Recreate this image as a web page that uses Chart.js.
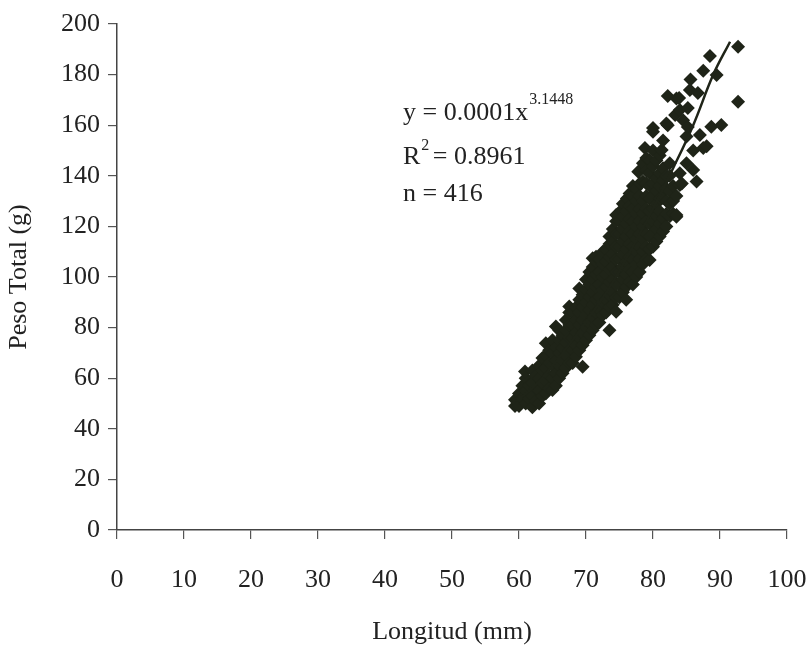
<!DOCTYPE html>
<html>
<head>
<meta charset="utf-8">
<script src="https://cdn.jsdelivr.net/npm/chart.js@4.4.1/dist/chart.umd.min.js"></script>
<style>
  html, body { margin: 0; padding: 0; background: #fff; }
  #wrap { width: 812px; height: 650px; }
</style>
</head>
<body>
<div id="wrap"><canvas id="grafico" width="812" height="650"></canvas></div>
<script>
// ejes
var xTicks = [0, 10, 20, 30, 40, 50, 60, 70, 80, 90, 100];
var yTicks = [0, 20, 40, 60, 80, 100, 120, 140, 160, 180, 200];

// ajuste potencial
var curvaX = [59.5, 62, 65, 68, 71, 74, 77, 80, 83, 86, 89, 91.5];
var curvaY = [51, 56, 65, 75, 86, 98, 112, 127, 143, 160, 180, 193];

var ecuacion = ["y = 0.0001x", "3.1448", "R", "2", " = 0.8961", "n = 416"];

// longitud (mm), peso total (g)
var muestras = [
  [59.4, 49], [59.4, 51.5], [59.7, 50.7],
  [60, 49], [60, 54], [60.5, 52], [60.5, 57],
  [61, 50], [61, 55], [61, 60], [60.9, 62.6], [61.5, 52], [61.5, 57],
  [62, 48.5], [62, 53], [62, 58], [62, 63], [62.5, 51], [62.5, 56], [62.5, 61],
  [63, 50], [63, 55], [63, 60], [63, 65], [63.5, 53], [63.5, 58], [63.5, 63], [63.5, 68],
  [64, 54], [64, 59], [64, 64], [64, 69], [64, 73.8], [64.5, 56], [64.5, 61], [64.5, 66], [64.5, 71],
  [65, 55.3], [65, 60], [65, 65], [65, 70], [65, 75], [65.5, 57], [65.5, 62], [65.5, 67], [65.5, 72], [65.5, 80.4],
  [66, 60], [66, 65], [66, 70], [66, 75], [66, 79], [66.5, 62], [66.5, 67], [66.5, 72], [66.5, 77],
  [67, 64], [67, 69], [67, 74], [67, 79], [67, 83], [67.5, 66], [67.5, 71], [67.5, 76], [67.5, 81], [67.5, 86], [67.5, 88.3],
  [68, 66], [68, 71], [68, 76], [68, 81], [68, 86], [68.5, 68.5], [68.5, 73], [68.5, 78], [68.5, 83], [68.5, 88],
  [69, 71], [69, 76], [69, 81], [69, 86], [69, 91], [69, 95.5], [69.5, 64.5], [69.5, 73], [69.5, 78], [69.5, 83], [69.5, 88], [69.5, 93],
  [70, 75], [70, 80], [70, 85], [70, 90], [70, 95], [70, 99], [70.5, 77], [70.5, 82], [70.5, 87], [70.5, 92], [70.5, 97], [70.5, 102],
  [71, 79], [71, 84], [71, 89], [71, 94], [71, 99], [71, 104], [71, 107.4], [71.5, 81], [71.5, 86], [71.5, 91], [71.5, 96], [71.5, 101], [71.5, 106], [71.5, 108],
  [72, 82], [72, 87], [72, 92], [72, 97], [72, 102], [72, 107], [72.5, 85], [72.5, 90], [72.5, 95], [72.5, 100], [72.5, 105], [72.5, 110],
  [73, 86], [73, 91], [73, 96], [73, 101], [73, 106], [73, 111], [73.5, 79], [73.5, 88], [73.5, 93], [73.5, 98], [73.5, 103], [73.5, 108], [73.5, 113], [73.5, 116],
  [74, 89], [74, 94], [74, 99], [74, 104], [74, 109], [74, 114], [74, 119],
  [74.5, 86.3], [74.5, 92], [74.5, 97], [74.5, 102], [74.5, 107], [74.5, 112], [74.5, 117], [74.5, 122], [74.5, 124.5],
  [75, 92], [75, 97], [75, 102], [75, 107], [75, 112], [75, 117], [75, 122], [75.3, 126.5],
  [75.5, 94], [75.5, 99], [75.5, 104], [75.5, 109], [75.5, 114], [75.5, 119], [75.5, 124], [75.5, 129],
  [76, 91], [76, 96], [76, 101], [76, 106], [76, 111], [76, 116], [76, 121], [76, 126], [76.1, 131],
  [76.5, 98], [76.5, 103], [76.5, 108], [76.5, 113], [76.5, 118], [76.5, 123], [76.5, 128], [76.5, 133],
  [77, 97], [77, 102], [77, 107], [77, 112], [77, 117], [77, 122], [77, 127], [77, 132], [77, 136],
  [77.5, 100], [77.5, 105], [77.5, 110], [77.5, 115], [77.5, 120], [77.5, 125], [77.5, 130], [77.5, 135], [77.8, 141.6],
  [78, 102], [78, 107], [78, 112], [78, 117], [78, 122], [78, 127], [78, 132], [78, 137], [78, 142],
  [78.5, 105], [78.5, 110], [78.5, 115], [78.5, 120], [78.5, 125], [78.5, 130], [78.5, 137.7], [78.5, 145], [78.8, 151],
  [79, 107], [79, 112], [79, 117], [79, 122], [79, 127], [79, 132], [79, 137], [79, 142], [79, 147],
  [79.5, 106.7], [79.5, 111], [79.5, 116], [79.5, 121], [79.5, 126], [79.5, 131], [79.5, 136], [79.5, 141], [79.5, 146],
  [80, 112], [80, 117], [80, 122], [80, 127], [80, 132], [80, 137], [80, 143.8], [80, 150], [80, 157.4], [80, 158.9],
  [80.5, 114], [80.5, 119], [80.5, 124], [80.5, 129], [80.5, 134], [80.5, 139], [80.5, 146],
  [81, 116], [81, 121], [81, 126], [81, 131], [81, 136], [81, 141], [81, 148], [81.3, 150.2],
  [81.5, 118], [81.5, 123], [81.5, 131.2], [81.5, 138], [81.5, 143], [81.5, 154],
  [82, 120], [82, 125], [82, 130], [82, 135], [82, 140], [82.2, 160], [82, 160.7], [82.2, 171.5],
  [82.5, 124], [82.5, 129], [82.5, 134], [82.5, 140], [82.5, 145],
  [83, 125], [83, 130], [83, 136], [83.5, 123.8], [83.5, 124.5], [83.5, 132], [83.5, 170.6], [83.3, 164],
  [83.9, 170.8], [84, 136.4], [84, 141], [84, 166], [84.3, 137], [84.5, 162],
  [85, 145], [85, 155.5], [85.2, 159.3], [85.2, 166.8], [85.5, 173.9], [85.6, 178.1],
  [86, 142.3], [86, 150], [86.5, 137.7], [86.7, 172.7], [87, 156.1],
  [87.5, 151], [87.5, 181.5], [88, 151.7], [88.5, 187.4], [88.7, 159.4],
  [89.5, 179.8], [90.2, 160.1], [92.7, 169.3], [92.7, 191]
];

var tinta = '#1f2418';
var fuente = 'Liberation Serif, Times New Roman, serif';

var curva = [];
for (let i = 0; i < curvaX.length; i++) {
  curva.push({ x: curvaX[i], y: curvaY[i] });
}
var puntos = muestras.map(function (p) { return { x: p[0], y: p[1] }; });

// texto de la ecuacion
var textoEcuacion = {
  id: 'textoEcuacion',
  afterDraw: function (chart) {
    const ctx = chart.ctx;
    ctx.save();
    ctx.fillStyle = '#222';
    ctx.textBaseline = 'alphabetic';
    ctx.textAlign = 'left';
    ctx.font = '26px ' + fuente;
    ctx.fillText(ecuacion[0], 403, 120);
    let w = ctx.measureText(ecuacion[0]).width;
    ctx.font = '16px ' + fuente;
    ctx.fillText(ecuacion[1], 403 + w + 1, 104);

    ctx.font = '26px ' + fuente;
    ctx.fillText(ecuacion[2], 403, 164);
    let wr = ctx.measureText(ecuacion[2]).width;
    ctx.font = '16px ' + fuente;
    ctx.fillText(ecuacion[3], 403 + wr + 1, 150);
    ctx.font = '26px ' + fuente;
    ctx.fillText(ecuacion[4], 403 + wr + 6, 164);

    ctx.fillText(ecuacion[5], 403, 201);
    ctx.restore();
  }
};

new Chart(document.getElementById('grafico'), {
  type: 'scatter',
  data: {
    datasets: [
      {
        type: 'scatter',
        data: puntos,
        pointStyle: 'rectRot',
        pointRadius: 7,
        pointBackgroundColor: tinta,
        pointBorderWidth: 0,
        order: 2
      },
      {
        type: 'line',
        data: curva,
        borderColor: tinta,
        borderWidth: 2.5,
        pointRadius: 0,
        tension: 0.4,
        fill: false,
        order: 1
      }
    ]
  },
  options: {
    responsive: false,
    animation: false,
    layout: { padding: { left: 0, top: 24, right: 25, bottom: 0 } },
    plugins: {
      legend: { display: false },
      tooltip: { enabled: false }
    },
    scales: {
      x: {
        type: 'linear',
        min: 0,
        max: 100,
        afterBuildTicks: function (axis) {
          axis.ticks = xTicks.map(function (v) { return { value: v }; });
        },
        afterFit: function (axis) {
          axis.height = 120;
          axis.paddingLeft = 0;
          axis.paddingRight = 0;
        },
        ticks: {
          color: '#222',
          padding: 26,
          maxRotation: 0,
          font: { family: fuente, size: 26 }
        },
        grid: {
          drawOnChartArea: false,
          drawTicks: true,
          tickLength: 9,
          color: '#555',
          lineWidth: 1.2
        },
        border: { display: true, color: '#444', width: 1.5 },
        title: {
          display: true,
          text: 'Longitud (mm)',
          color: '#222',
          padding: { top: 0, bottom: 2 },
          font: { family: fuente, size: 26 }
        }
      },
      y: {
        type: 'linear',
        min: 0,
        max: 200,
        afterBuildTicks: function (axis) {
          axis.ticks = yTicks.map(function (v) { return { value: v }; });
        },
        afterFit: function (axis) { axis.width = 117; },
        ticks: {
          color: '#222',
          padding: 8,
          font: { family: fuente, size: 26 }
        },
        grid: {
          drawOnChartArea: false,
          drawTicks: true,
          tickLength: 9,
          color: '#555',
          lineWidth: 1.2
        },
        border: { display: true, color: '#444', width: 1.5 },
        title: {
          display: true,
          text: 'Peso Total (g)',
          color: '#222',
          padding: { top: 4, bottom: 0 },
          font: { family: fuente, size: 26 }
        }
      }
    }
  },
  plugins: [textoEcuacion]
});
</script>
</body>
</html>
